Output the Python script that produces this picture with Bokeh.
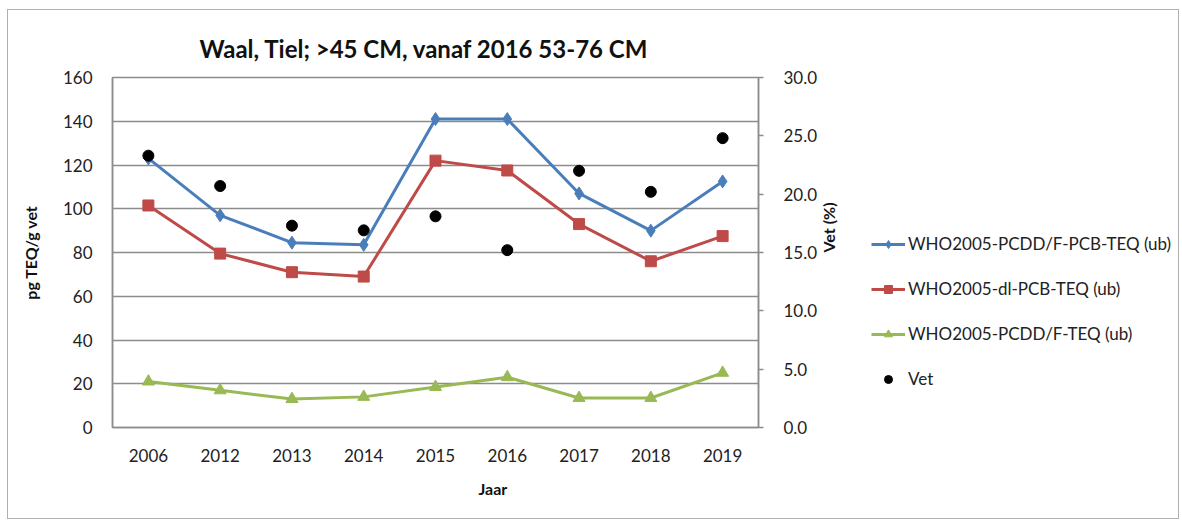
import math
from bokeh.plotting import figure
from bokeh.layouts import row
from bokeh.models import (Range1d, LinearAxis, NumeralTickFormatter, FixedTicker,
                          Legend, LegendItem, Title)
from bokeh.embed import file_html
from bokeh.resources import INLINE

years = ["2006", "2012", "2013", "2014", "2015", "2016", "2017", "2018", "2019"]
pcddf_pcb = [123, 97, 84.5, 83.5, 141, 141, 107, 90, 112.5]
dl_pcb = [101.5, 79.5, 71, 69, 122, 117.5, 93, 76, 87.5]
pcddf = [21, 17, 13, 14, 18.5, 23, 13.5, 13.5, 25]
vet = [23.3, 20.7, 17.3, 16.9, 18.1, 15.2, 22.0, 20.2, 24.8]

left_ticks = [0, 20, 40, 60, 80, 100, 120, 140, 160]
right_ticks = [0, 5, 10, 15, 20, 25, 30]

FONT = "Lato"
GRID = "#8c8c8c"
BLUE = "#4a7ebb"
RED = "#be4b48"
GREEN = "#98b954"

p = figure(x_range=years, y_range=Range1d(0, 160), width=850, height=508,
           output_backend="svg", toolbar_location=None,
           min_border_left=104, min_border_right=100, min_border_top=67,
           min_border_bottom=91)
p.extra_y_ranges = {"vet": Range1d(0, 30)}

p.outline_line_color = GRID
p.outline_line_width = 1.5
p.xgrid.grid_line_color = None
p.ygrid.grid_line_color = GRID
p.ygrid.grid_line_width = 1.5
p.ygrid.ticker = FixedTicker(ticks=left_ticks)

p.yaxis.ticker = FixedTicker(ticks=left_ticks)
p.yaxis.axis_label = "pg TEQ/g vet"
for ax in (p.xaxis[0], p.yaxis[0]):
    ax.axis_line_color = GRID
    ax.axis_line_width = 1.5
    ax.major_tick_line_color = None
    ax.minor_tick_line_color = None
    ax.major_label_text_font = FONT
    ax.major_label_text_font_size = "17px"
    ax.major_label_text_color = "#222222"
    ax.axis_label_text_font = FONT
    ax.axis_label_text_font_style = "bold"
    ax.axis_label_text_font_size = "16px"
    ax.axis_label_text_color = "#111111"
p.yaxis.major_label_standoff = 14
p.yaxis.axis_label_standoff = 20
p.xaxis.major_label_standoff = 15

ra = LinearAxis(y_range_name="vet", ticker=FixedTicker(ticks=right_ticks),
                formatter=NumeralTickFormatter(format="0.0"), axis_label="Vet (%)")
ra.axis_line_color = GRID
ra.axis_line_width = 1.5
ra.major_tick_line_color = GRID
ra.major_tick_line_width = 1.5
ra.major_tick_out = 5
ra.major_tick_in = 0
ra.minor_tick_line_color = None
ra.major_label_text_font = FONT
ra.major_label_text_font_size = "17px"
ra.major_label_text_color = "#222222"
ra.major_label_standoff = 20
ra.axis_label_text_font = FONT
ra.axis_label_text_font_style = "bold"
ra.axis_label_text_font_size = "16px"
ra.axis_label_text_color = "#111111"
ra.axis_label_standoff = 8
if "axis_label_orientation" in ra.properties():
    ra.axis_label_orientation = math.pi / 2
p.add_layout(ra, "right")

t = Title(text="Waal, Tiel; >45 CM, vanaf 2016 53-76 CM", align="left",
          text_font=FONT, text_font_size="24px", text_font_style="bold",
          text_color="#111111", offset=87, standoff=30)
p.add_layout(t, "above")

jt = Title(text="Jaar", align="left", text_font=FONT, text_font_size="16px",
           text_font_style="bold", text_color="#111111", offset=366, standoff=24)
p.add_layout(jt, "below")

p.line(years, pcddf_pcb, color=BLUE, line_width=3)
p.scatter(years, pcddf_pcb, marker="diamond", size=13, color=BLUE)
p.line(years, dl_pcb, color=RED, line_width=3)
p.scatter(years, dl_pcb, marker="square", size=11, color=RED)
p.line(years, pcddf, color=GREEN, line_width=3)
p.scatter(years, pcddf, marker="triangle", size=12, color=GREEN)
p.scatter(years, vet, marker="circle", size=11, color="black", y_range_name="vet")

# legend panel: same series, drawn in a range where they fall outside view,
# so only their legend entries appear
q = figure(x_range=years, y_range=Range1d(1000, 1001), width=320, height=508,
           output_backend="svg", toolbar_location=None,
           min_border_left=0, min_border_right=0, min_border_top=0,
           min_border_bottom=0, x_axis_type=None, y_axis_type=None)
q.outline_line_color = None
q.xgrid.grid_line_color = None
q.ygrid.grid_line_color = None
l1 = q.line(years, pcddf_pcb, color=BLUE, line_width=3)
m1 = q.scatter(years, pcddf_pcb, marker="diamond", size=13, color=BLUE)
l2 = q.line(years, dl_pcb, color=RED, line_width=3)
m2 = q.scatter(years, dl_pcb, marker="square", size=11, color=RED)
l3 = q.line(years, pcddf, color=GREEN, line_width=3)
m3 = q.scatter(years, pcddf, marker="triangle", size=12, color=GREEN)
m4 = q.scatter(years, vet, marker="circle", size=11, color="black")

legend = Legend(items=[
    LegendItem(label="WHO2005-PCDD/F-PCB-TEQ (ub)", renderers=[l1, m1]),
    LegendItem(label="WHO2005-dl-PCB-TEQ (ub)", renderers=[l2, m2]),
    LegendItem(label="WHO2005-PCDD/F-TEQ (ub)", renderers=[l3, m3]),
    LegendItem(label="Vet", renderers=[m4]),
], location=(13, 38), orientation="vertical")
legend.label_text_font = FONT
legend.label_text_font_size = "17px"
legend.label_text_color = "#222222"
legend.glyph_width = 34
legend.glyph_height = 20
legend.label_standoff = 3
legend.spacing = 24
legend.padding = 0
legend.margin = 0
legend.border_line_color = None
legend.background_fill_alpha = 0
q.add_layout(legend)

layout = row(p, q, styles={"border": "1.5px solid #b0b0b0", "margin-left": "7px",
                           "margin-top": "9px"})

open("out.html", "w").write(file_html(layout, INLINE))
